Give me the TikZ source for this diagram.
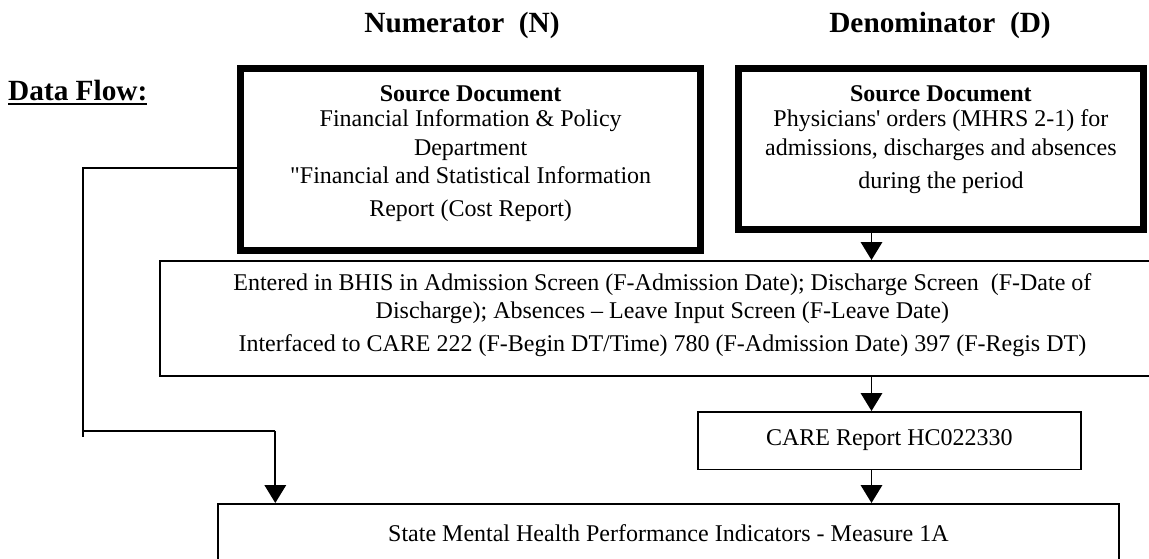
\documentclass[tikz,border=0pt]{standalone}
\usepackage{fontspec}
\setmainfont{Liberation Serif}[Ligatures=TeXOff]
\usetikzlibrary{arrows.meta}
\newcommand\ulbox[1]{\setbox0\hbox{#1}\rlap{\rule[-5pt]{\wd0}{2pt}}\box0}
\tikzset{
  thinbox/.style={draw, line width=1.8pt, inner sep=0pt},
  thickbox/.style={draw, line width=7.3pt, inner sep=0pt},
  flow/.style={line width=1.8pt, -{Triangle[width=21.5pt,length=18pt]}},
  wire/.style={line width=1.8pt},
  body/.style={font=\fontsize{24}{28.5}\selectfont},
  head/.style={font=\fontsize{29.3}{34}\selectfont\bfseries, inner sep=0pt},
}
\begin{document}
\begin{tikzpicture}[x=1pt,y=-1pt]
\useasboundingbox (0,0) rectangle (1149,558);
\clip (0,0) rectangle (1149,558);

% headings
\node[head, anchor=base] (num) at (462,32) {Numerator\ \ (N)};
\node[head, anchor=base] (den) at (940,32) {Denominator\ \ (D)};
\node[head, anchor=base west] (df) at (8,100) {\ulbox{Data Flow:}};

% source boxes
\node[thickbox, body, anchor=north west, minimum width=460pt, minimum height=182pt] (lsrc) at (237,64.5)
 {\begin{minipage}[c][182pt][t]{460pt}\centering
  \rule{0pt}{33.5pt}\textbf{Source Document}\\[-3.5pt]
  Financial Information \& Policy\\
  Department\\
  "Financial and Statistical Information\\[4.5pt]
  Report (Cost Report)
  \end{minipage}};

\node[thickbox, body, anchor=north west, minimum width=404.5pt, minimum height=161.5pt] (rsrc) at (735,64.5)
 {\begin{minipage}[c][161.5pt][t]{404.5pt}\centering
  \rule{0pt}{33.5pt}\textbf{Source Document}\\[-3.5pt]
  Physicians' orders (MHRS 2-1) for\\[0.2pt]
  admissions, discharges and absences\\[4.8pt]
  during the period
  \end{minipage}};

% entered box (runs past the right edge)
\node[thinbox, body, anchor=north west, minimum width=1005pt, minimum height=115pt] (mid) at (159,260)
 {\begin{minipage}[c][115pt][t]{1005pt}\centering
  \rule{0pt}{30pt}Entered in BHIS in Admission Screen (F-Admission Date); Discharge Screen\ \ (F-Date of\\[-0.5pt]
  Discharge); Absences – Leave Input Screen (F-Leave Date)\\[4.5pt]
  Interfaced to CARE 222 (F-Begin DT/Time) 780 (F-Admission Date) 397 (F-Regis DT)
  \end{minipage}};

% CARE report box
\node[thinbox, body, anchor=north west, minimum width=383pt, minimum height=57.5pt] (care) at (697,411)
 {\begin{minipage}[c][57.5pt][t]{383pt}\centering
  \rule{0pt}{34pt}CARE Report HC022330
  \end{minipage}};

% state box (runs past the bottom edge)
\node[thinbox, body, anchor=north west, minimum width=901pt, minimum height=80pt] (state) at (217,503)
 {\begin{minipage}[c][80pt][t]{901pt}\centering
  \rule{0pt}{37.7pt}State Mental Health Performance Indicators - Measure 1A
  \end{minipage}};

% connectors
\coordinate (ax) at (871.5,0);
\draw[flow] (rsrc.south -| ax) -- (mid.north -| ax);
\draw[flow] (mid.south -| ax) -- (care.north -| ax);
\draw[flow] (care.south -| ax) -- (state.north -| ax);

\coordinate (k1) at (83,168);
\coordinate (k2) at (83,430.7);
\coordinate (k3) at (83,436.7);
\coordinate (k4) at (275.3,430.7);
\draw[wire] (lsrc.west |- k1) -- (k1) -- (k3);
\draw[wire] (k2) -- (k4);
\draw[flow] (k4) -- (state.north -| k4);
\end{tikzpicture}
\end{document}
